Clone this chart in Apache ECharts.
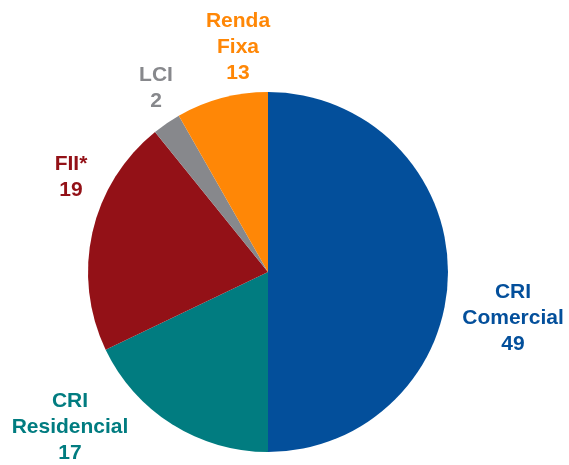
<!DOCTYPE html>
<html>
<head>
<meta charset="utf-8">
<script src="https://cdn.jsdelivr.net/npm/echarts@6/dist/echarts.min.js"></script>
<style>
  html, body { margin: 0; padding: 0; background: #fff; }
  #main { width: 569px; height: 465px; }
</style>
</head>
<body>
<div id="main"></div>
<script>
// categories, clockwise from 12 o'clock
var categories = ["CRI Comercial", "CRI Residencial", "FII*", "LCI", "Renda Fixa"];
// slice sizes as drawn in the picture (share of the circle, %)
var sliceShare = [50, 17.9, 21.3, 2.55, 8.25];
// values printed in the labels
var labelValue = [49, 17, 19, 2, 13];
var colors = ["#034f9b", "#017c80", "#931117", "#87888c", "#ff8706"];

// label centres (label placement only)
var labelX = [513, 70, 71, 156, 238];
var labelY = [318, 427, 177, 88, 47];

var chart = echarts.init(document.getElementById("main"));
chart.setOption({
  animation: false,
  series: [
    {
      type: "pie",
      center: [268, 272],
      radius: [0, 180],
      startAngle: 90,
      clockwise: true,
      data: categories.map(function (c, i) {
        return {
          name: c,
          value: sliceShare[i],
          itemStyle: { color: colors[i] },
          label: { color: colors[i] }
        };
      }),
      label: {
        show: true,
        position: "outside",
        formatter: function (p) {
          return p.name.replace(" ", "\n") + "\n" + labelValue[p.dataIndex];
        },
        fontFamily: "Liberation Sans, Arial, sans-serif",
        fontWeight: "bold",
        fontSize: 21,
        lineHeight: 26,
        align: "center",
        overflow: "none",
        width: 200
      },
      labelLine: { show: false },
      labelLayout: function (p) {
        return {
          x: labelX[p.dataIndex],
          y: labelY[p.dataIndex],
          align: "center",
          verticalAlign: "middle"
        };
      },
      itemStyle: { borderWidth: 0 }
    }
  ]
});
</script>
</body>
</html>
